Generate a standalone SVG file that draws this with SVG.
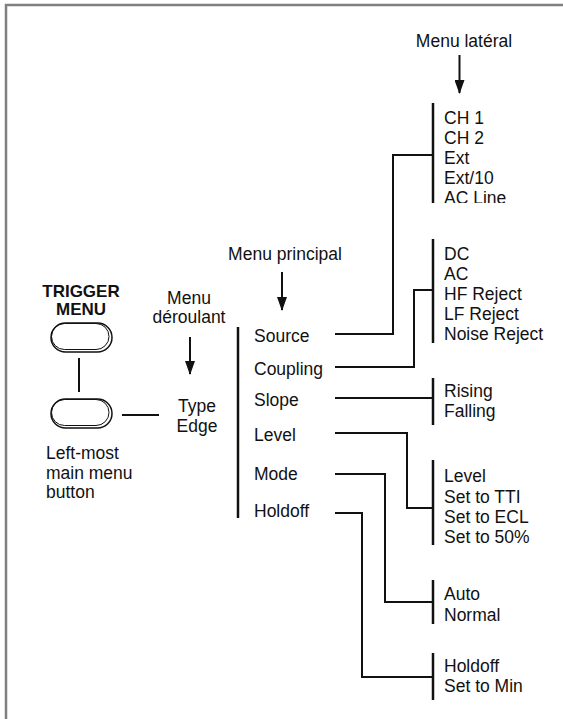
<svg xmlns="http://www.w3.org/2000/svg" width="563" height="719" viewBox="0 0 563 719">
<style>
text{font-family:"Liberation Sans",Arial,sans-serif;font-size:17.5px;fill:#111}
.b{font-weight:bold;font-size:17px}
.m{text-anchor:middle}
.ln{fill:none;stroke:#111;stroke-width:2}
.bar{fill:none;stroke:#111;stroke-width:2.5}
.btn{fill:#fff;stroke:#111;stroke-width:1.5}
</style>
<defs>
<marker id="ah" markerUnits="userSpaceOnUse" markerWidth="14" markerHeight="10" refX="13" refY="5" orient="auto" viewBox="0 0 14 10">
<path d="M0,0 L14,5 L0,10 Z" fill="#111"/>
</marker>
<clipPath id="c1"><rect x="430" y="100" width="130" height="103"/></clipPath>
</defs>
<g id="frame"><path d="M6,719 V5 H563" fill="none" stroke="#808080" stroke-width="2.5"/></g>

<g id="trigger-menu-button">
<text class="b m" x="81" y="297">TRIGGER</text>
<text class="b m" x="81" y="315">MENU</text>
<rect class="btn" x="51" y="323" width="61" height="29" rx="14.5"/>
<rect x="51.5" y="323.5" width="57.5" height="26" rx="13" fill="none" stroke="#111" stroke-width="1"/>
</g>
<g id="left-most-button">
<rect class="btn" x="51" y="399" width="61" height="29" rx="14.5"/>
<rect x="51.5" y="399.5" width="57.5" height="26" rx="13" fill="none" stroke="#111" stroke-width="1"/>
<text x="46" y="459">Left-most</text>
<text x="46" y="479">main menu</text>
<text x="46" y="498">button</text>
</g>

<g id="menu-deroulant-label">
<text class="m" x="189" y="304">Menu</text>
<text class="m" x="189" y="323">déroulant</text>
</g>
<g id="menu-deroulant">
<text class="m" x="197" y="412">Type</text>
<text class="m" x="197" y="432">Edge</text>
</g>

<g id="menu-principal-label"><text class="m" x="285" y="260">Menu principal</text></g>
<g id="menu-principal">
<path class="bar" d="M238,327 V518"/>
<text x="254" y="342">Source</text>
<text x="254" y="374.5">Coupling</text>
<text x="254" y="406">Slope</text>
<text x="254" y="441">Level</text>
<text x="254" y="480">Mode</text>
<text x="254" y="517">Holdoff</text>
</g>

<g id="menu-lateral-label"><text class="m" x="464" y="46.7">Menu latéral</text></g>

<g id="side-source">
<path class="bar" d="M433,103 V203"/>
<g clip-path="url(#c1)">
<text x="444" y="124">CH 1</text>
<text x="444" y="144">CH 2</text>
<text x="444" y="164">Ext</text>
<text x="444" y="184">Ext/10</text>
<text x="444" y="204">AC Line</text>
</g>
</g>
<g id="side-coupling">
<path class="bar" d="M433,239 V343"/>
<text x="444" y="259.5">DC</text>
<text x="444" y="279.5">AC</text>
<text x="444" y="299.5">HF Reject</text>
<text x="444" y="319.5">LF Reject</text>
<text x="444" y="339.5">Noise Reject</text>
</g>
<g id="side-slope">
<path class="bar" d="M433,378 V425"/>
<text x="444" y="397">Rising</text>
<text x="444" y="417">Falling</text>
</g>
<g id="side-level">
<path class="bar" d="M433,460 V545"/>
<text x="444" y="482">Level</text>
<text x="444" y="502.5">Set to TTI</text>
<text x="444" y="523">Set to ECL</text>
<text x="444" y="543">Set to 50%</text>
</g>
<g id="side-mode">
<path class="bar" d="M433,580 V624"/>
<text x="444" y="600">Auto</text>
<text x="444" y="620.5">Normal</text>
</g>
<g id="side-holdoff">
<path class="bar" d="M433,653 V700"/>
<text x="444" y="672">Holdoff</text>
<text x="444" y="692">Set to Min</text>
</g>

<g id="connectors">
<path class="ln" d="M459.5,55 V93" marker-end="url(#ah)"/>
<path class="ln" d="M282,272 V310" marker-end="url(#ah)"/>
<path class="ln" d="M190,337 V374" marker-end="url(#ah)"/>
<path class="ln" d="M79,358 V392"/>
<path class="ln" d="M122,415 H159"/>
<path class="ln" d="M335,334 H393 V155 H433"/>
<path class="ln" d="M335,367 H414 V290 H433"/>
<path class="ln" d="M335,398 H433"/>
<path class="ln" d="M335,433 H407 V508 H433"/>
<path class="ln" d="M335,474 H385 V602 H433"/>
<path class="ln" d="M335,513 H362 V677 H433"/>
</g>
</svg>
